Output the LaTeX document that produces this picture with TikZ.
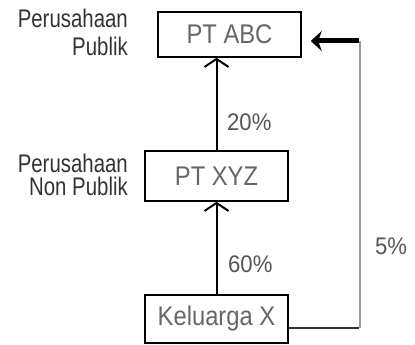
\documentclass[tikz,border=0pt]{standalone}
\usepackage{fontspec}
\setmainfont{Liberation Sans}
\newfontfamily\labfont[FakeStretch=0.8]{Liberation Sans}
\newfontfamily\boxfont[FakeStretch=0.88]{Liberation Sans}
\newfontfamily\pctfont[FakeStretch=0.92]{Liberation Sans}
\usetikzlibrary{arrows.meta}
\definecolor{labgray}{HTML}{333333}
\definecolor{boxtext}{HTML}{666666}
\definecolor{pcttext}{HTML}{555555}
\definecolor{linegray}{HTML}{9A9A9A}
\begin{document}
\begin{tikzpicture}[x=1pt,y=-1pt,
  entity/.style={draw=black,line width=1.5pt,minimum width=143pt,inner sep=0pt,
    text=boxtext,font=\boxfont\fontsize{27}{29}\selectfont},
  lab/.style={anchor=north east,inner sep=0pt,align=right,text=labgray},
  pct/.style={anchor=base west,inner sep=0pt,text=pcttext,font=\pctfont\fontsize{24}{26}\selectfont},
  uparr/.style={line width=2pt,-{Straight Barb[length=8pt,width=24pt,line width=2pt]}},
  fatarr/.style={line width=5pt,-{Stealth[length=11pt,width=20pt]}},
  thin/.style={draw=linegray,line width=1.6pt}]
\useasboundingbox (0,0) rectangle (415,345);
\node[entity,minimum height=45pt] (abc) at (229.5,34.5) {PT ABC};
\node[entity,minimum height=50pt] (xyz) at (216.5,176) {PT XYZ};
\node[entity,minimum height=48pt] (kx) at (216.5,319) {Keluarga X};
\node[lab,font=\labfont\fontsize{25.5}{28}\selectfont] (l1) at (128,8.4) {Perusahaan\\Publik};
\node[lab,font=\labfont\fontsize{25.5}{23}\selectfont] (l2) at (128,153.4) {Perusahaan\\Non Publik};
\node[pct] (p20) at (227,130) {20\%};
\node[pct] (p60) at (228,272) {60\%};
\node[pct] (p5) at (375,254) {5\%};
\draw[uparr] (kx.north) -- (xyz.south);
\draw[uparr] (xyz.north) -- (xyz.north |- abc.south);
\coordinate (c1) at (360,328);
\coordinate (c2) at (360,41);
\draw[line width=1.6pt,draw=black!80] (kx.east |- c1) -- ([xshift=-0.8pt]c1);
\draw[thin] (c1) -- (c2);
\draw[fatarr] ([xshift=-0.8pt]c2) -- ([xshift=9pt]abc.east |- c2);
\end{tikzpicture}
\end{document}
